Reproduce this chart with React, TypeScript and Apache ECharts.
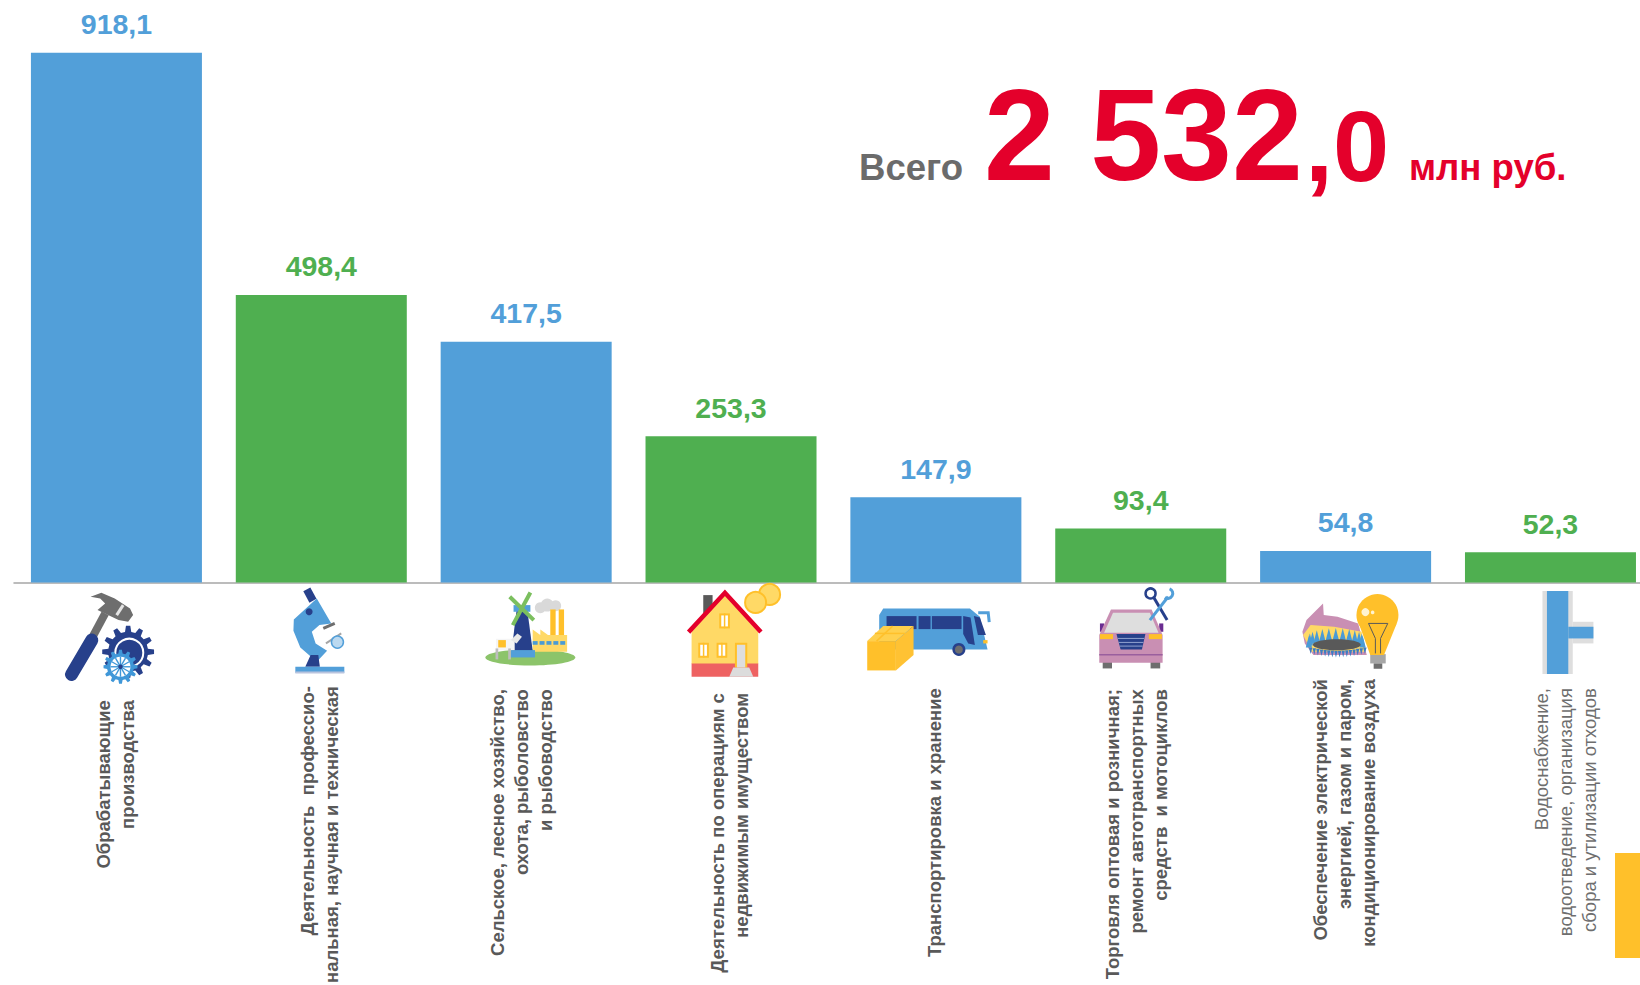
import React, { useEffect, useRef } from "react";
import * as echarts from "echarts";

const categories = [
  "Обрабатывающие\nпроизводства",
  "Деятельность  профессио-\nнальная, научная и техническая",
  "Сельское, лесное хозяйство,\nохота, рыболовство\nи рыбоводство",
  "Деятельность по операциям с\nнедвижимым имуществом",
  "Транспортировка и хранение",
  "Торговля оптовая и розничная;\nремонт автотранспортных\nсредств  и мотоциклов",
  "Обеспечение электрической\nэнергией, газом и паром,\nкондиционирование воздуха",
  "Водоснабжение,\nводоотведение, организация\nсбора и утилизации отходов",
];
const values = [918.1, 498.4, 417.5, 253.3, 147.9, 93.4, 54.8, 52.3];
const labelTops = [700, 686, 689, 693, 688, 689, 679, 688];
const labelShift = [-1, -2, -5, -2, -1, -4, -1, 15];

const BLUE = "#529FD9";
const GREEN = "#4FAF50";
const DARK = "#27408B";
const YEL = "#FFC02A";
const LY = "#FFD966";
const GR = "#6E6E6E";
const LG = "#D9D9D9";
const RED = "#E4002B";
const BASE_Y = 582.4;
const refCenters = [116.5, 321.4, 526.2, 731.1, 936, 1140.8, 1345.7, 1550.5];

type P = [number, number];
const Z1 = (p: P): P => [p[0] / 2.613, 560 + p[1] / 3];
const Z2 = (p: P): P => [600 + p[0] / 3, 560 + p[1] / 3];
const Z3 = (p: P): P => [1100 + p[0] / 2.904, 560 + p[1] / 3];
type Z = (p: P) => P;

const poly = (z: Z, pts: P[], fill: string) => ({ type: "polygon", shape: { points: pts.map(z) }, style: { fill } });
const line = (z: Z, a: P, b: P, stroke: string, lineWidth: number, cap = "butt") => {
  const [x1, y1] = z(a);
  const [x2, y2] = z(b);
  return { type: "line", shape: { x1, y1, x2, y2 }, style: { stroke, lineWidth, lineCap: cap } };
};
const pline = (z: Z, pts: P[], stroke: string, lineWidth: number) => ({
  type: "polyline",
  shape: { points: pts.map(z) },
  style: { stroke, lineWidth, fill: "none" },
});
const rect = (z: Z, a: P, b: P, fill: string) => {
  const [x, y] = z(a);
  const [x2, y2] = z(b);
  return { type: "rect", shape: { x, y, width: x2 - x, height: y2 - y }, style: { fill } };
};
const circ = (z: Z, c: P, r: number, fill: string, stroke?: string, lineWidth = 1) => {
  const [cx, cy] = z(c);
  return { type: "circle", shape: { cx, cy, r }, style: { fill, stroke, lineWidth } };
};
const ell = (z: Z, c: P, rx: number, ry: number, fill: string) => {
  const [cx, cy] = z(c);
  return { type: "ellipse", shape: { cx, cy, rx, ry }, style: { fill } };
};
const gear = (z: Z, c: P, ro: number, ri: number, teeth: number, fill: string) => {
  const [cx, cy] = z(c);
  const pts: P[] = [];
  for (let i = 0; i < teeth; i++) {
    const a = (i / teeth) * Math.PI * 2;
    const s = (Math.PI * 2) / teeth;
    [
      [a - s * 0.3, ri],
      [a - s * 0.16, ro],
      [a + s * 0.16, ro],
      [a + s * 0.3, ri],
    ].forEach(([t, r]) => pts.push([cx + Math.cos(t) * r, cy + Math.sin(t) * r]));
  }
  return { type: "polygon", shape: { points: pts }, style: { fill } };
};

const hammerIcon = () => {
  const c: P = [335, 275];
  const s: P = [315, 320];
  const sc = Z1(s);
  const spokes = [0, 1, 2, 3, 4, 5].map((i) => {
    const a = (i / 6) * Math.PI;
    return {
      type: "line",
      shape: {
        x1: sc[0] - Math.cos(a) * 10,
        y1: sc[1] - Math.sin(a) * 10,
        x2: sc[0] + Math.cos(a) * 10,
        y2: sc[1] + Math.sin(a) * 10,
      },
      style: { stroke: "#3F97D8", lineWidth: 1.4 },
    };
  });
  return [
    line(Z1, [240, 235], [275, 160], GR, 8),
    poly(Z1, [[237, 110], [265, 98], [300, 115], [340, 145], [348, 165], [335, 185], [310, 180], [255, 150], [275, 130], [262, 115]], GR),
    line(Z1, [305, 165], [322, 135], "#E4E4E4", 3),
    line(Z1, [187, 343], [240, 240], DARK, 13, "round"),
    gear(Z1, c, 26, 20, 12, DARK),
    circ(Z1, [338, 278], 14, DARK, "#fff", 2),
    gear(Z1, s, 17, 13.5, 12, "#3F97D8"),
    circ(Z1, s, 10, "#fff"),
    ...spokes,
    circ(Z1, s, 2.2, DARK),
  ];
};

const microscopeIcon = () => [
  line(Z1, [802, 88], [818, 122], DARK, 8),
  poly(Z1, [[768, 178], [828, 115], [866, 190], [835, 195], [815, 215], [825, 250], [855, 272], [828, 305], [785, 262], [767, 212]], BLUE),
  circ(Z1, [808, 155], 3.5, DARK),
  line(Z1, [845, 205], [875, 190], GR, 3),
  line(Z1, [852, 250], [892, 220], "#A6A6A6", 2),
  circ(Z1, [882, 246], 6, "#BBD9F0", BLUE, 1.5),
  poly(Z1, [[798, 320], [812, 285], [832, 285], [836, 320]], DARK),
  rect(Z1, [772, 320], [900, 338], BLUE),
  rect(Z1, [772, 334], [900, 340], "#B9C4DE"),
];

const farmIcon = () => {
  const wins = [1392, 1410, 1428, 1446, 1464].map((x) => rect(Z1, [x, 243], [x + 13, 254], "#4A9BD5"));
  return [
    ell(Z1, [1386, 292], 45, 8, "#8CC46A"),
    circ(Z1, [1412, 143], 5.5, LG),
    circ(Z1, [1430, 135], 6.5, LG),
    circ(Z1, [1452, 137], 5.5, LG),
    rect(Z1, [1438, 148], [1452, 235], YEL),
    rect(Z1, [1460, 148], [1474, 235], YEL),
    poly(Z1, [[1392, 240], [1392, 208], [1412, 225], [1412, 208], [1432, 225], [1482, 225], [1482, 275], [1392, 275]], LY),
    ...wins,
    poly(Z1, [[1350, 150], [1378, 150], [1392, 272], [1337, 272]], DARK),
    rect(Z1, [1335, 270], [1398, 292], BLUE),
    rect(Z1, [1342, 135], [1386, 155], BLUE),
    line(Z1, [1332, 110], [1395, 180], "#7BBF5E", 4),
    line(Z1, [1386, 97], [1340, 195], "#7BBF5E", 4),
    rect(Z1, [1296, 236], [1345, 270], "#F5F5F5"),
    rect(Z1, [1302, 240], [1322, 262], YEL),
    poly(Z1, [[1335, 240], [1352, 220], [1364, 230], [1350, 250]], "#E8E8E8"),
    rect(Z1, [1295, 265], [1302, 298], "#BDBDBD"),
    rect(Z1, [1328, 265], [1335, 298], "#BDBDBD"),
  ];
};

const houseIcon = () => [
  rect(Z2, [310, 105], [338, 165], "#595959"),
  poly(Z2, [[275, 215], [375, 105], [475, 215], [475, 312], [275, 312]], LY),
  rect(Z2, [275, 310], [475, 350], "#EE6262"),
  pline(Z2, [[266, 216], [375, 98], [483, 216]], RED, 4.5),
  ...([[358, 160, 390, 205], [295, 248, 327, 293], [350, 248, 382, 293]] as number[][]).flatMap(([a, b, c, d]) => [
    rect(Z2, [a, b], [c, d], YEL),
    rect(Z2, [a + 6, b + 6], [c - 6, d - 6], "#FFFFFF"),
    line(Z2, [(a + c) / 2, b], [(a + c) / 2, d], YEL, 1.5),
  ]),
  rect(Z2, [405, 248], [442, 322], YEL),
  rect(Z2, [411, 254], [436, 322], "#DEDEDE"),
  poly(Z2, [[388, 350], [400, 322], [448, 322], [460, 350]], "#DCDCDC"),
  circ(Z2, [509, 103], 10.5, LY, YEL, 2),
  circ(Z2, [467, 127], 10.5, LY, YEL, 2),
];

const busIcon = () => [
  poly(Z2, [[838, 165], [850, 145], [1110, 145], [1140, 170], [1163, 268], [838, 268]], BLUE),
  rect(Z2, [860, 168], [950, 207], DARK),
  rect(Z2, [956, 168], [992, 207], DARK),
  rect(Z2, [996, 168], [1085, 207], DARK),
  poly(Z2, [[1090, 168], [1112, 172], [1125, 255], [1105, 250], [1090, 222]], DARK),
  poly(Z2, [[1122, 168], [1140, 172], [1158, 225], [1134, 225]], DARK),
  pline(Z2, [[1135, 158], [1165, 158], [1168, 186]], BLUE, 3),
  rect(Z2, [1150, 240], [1163, 250], YEL),
  circ(Z2, [1077, 268], 6.5, DARK),
  circ(Z2, [1077, 268], 4, GR),
  poly(Z2, [[802, 243], [888, 243], [888, 331], [802, 331]], YEL),
  poly(Z2, [[802, 243], [850, 198], [941, 198], [888, 243]], "#FFD04D"),
  poly(Z2, [[888, 243], [941, 198], [941, 285], [888, 331]], "#FFC233"),
  line(Z2, [830, 243], [878, 198], YEL, 1.5),
  line(Z2, [825, 220], [915, 220], YEL, 1.5),
];

const carIcon = () => [
  rect(Z3, [0, 190], [12, 215], "#6A2C91"),
  rect(Z3, [172, 190], [184, 215], "#6A2C91"),
  rect(Z3, [8, 305], [35, 325], GR),
  rect(Z3, [147, 305], [175, 325], GR),
  poly(Z3, [[-2, 225], [32, 148], [150, 148], [182, 225], [182, 308], [-2, 308]], "#C98FB3"),
  poly(Z3, [[12, 218], [38, 158], [145, 158], [170, 218]], "#DEDEDE"),
  poly(Z3, [[48, 222], [132, 222], [122, 268], [60, 268]], DARK),
  line(Z3, [52, 235], [128, 235], "#8FA0CF", 1),
  line(Z3, [54, 247], [126, 247], "#8FA0CF", 1),
  line(Z3, [57, 258], [124, 258], "#8FA0CF", 1),
  rect(Z3, [0, 222], [38, 237], YEL),
  rect(Z3, [142, 222], [180, 237], YEL),
  line(Z3, [-2, 284], [182, 284], "#9A5F9E", 1.5),
  line(Z3, [155, 110], [195, 180], DARK, 3),
  circ(Z3, [147, 100], 5, "#FFFFFF", DARK, 2.5),
  line(Z3, [198, 110], [145, 180], BLUE, 3),
  { type: "arc", shape: { cx: Z3([197, 100])[0], cy: Z3([197, 100])[1], r: 5, startAngle: -1.2, endAngle: 2.2, clockwise: true }, style: { stroke: BLUE, lineWidth: 3, fill: "none" } },
];

const burnerIcon = () => {
  const flames: any[] = [];
  for (let i = 0; i < 13; i++) {
    const t = (i / 12) * Math.PI;
    const x = 685 - Math.cos(t) * 78;
    const y = 250 - Math.sin(t) * 22;
    flames.push(poly(Z3, [[x - 9, y + 12], [x, y - 24], [x + 9, y + 12]], "#4A9BD5"));
  }
  for (let i = 0; i < 16; i++) {
    const x = 612 + i * 10.5;
    const y = 270 + Math.sin((i / 15) * Math.PI) * 10;
    flames.push(poly(Z3, [[x - 5, y - 8], [x, y + 12], [x + 5, y - 8]], "#3D7CC4"));
  }
  return [
    poly(Z3, [[588, 215], [600, 180], [648, 130], [650, 165], [690, 170], [750, 190], [775, 285], [620, 285], [595, 250]], "#C98FB3"),
    poly(Z3, [[590, 225], [612, 195], [680, 200], [760, 215], [770, 275], [615, 275]], LY),
    ...flames,
    ell(Z3, [688, 254], 24, 5.5, "#595959"),
    rect(Z3, [785, 282], [830, 310], "#A6A6A6"),
    rect(Z3, [795, 310], [820, 326], "#6E6E6E"),
    circ(Z3, [806, 165], 21, YEL),
    poly(Z3, [[752, 190], [862, 190], [825, 285], [785, 285]], YEL),
    pline(Z3, [[780, 190], [836, 190], [815, 235], [815, 280]], "#595959", 1),
    pline(Z3, [[780, 190], [800, 235], [800, 280]], "#595959", 1),
    circ(Z3, [771, 156], 4, "#FFF3D0"),
    circ(Z3, [792, 157], 1.8, "#FFF3D0"),
  ];
};

const pipeIcon = () => [
  rect(Z3, [1285, 93], [1373, 342], "#DEDEDE"),
  rect(Z3, [1373, 185], [1433, 250], "#DEDEDE"),
  rect(Z3, [1298, 93], [1360, 342], BLUE),
  rect(Z3, [1360, 200], [1433, 235], BLUE),
];

const icons = [hammerIcon, microscopeIcon, farmIcon, houseIcon, busIcon, carIcon, burnerIcon, pipeIcon];

const renderAnnex = (p: any, api: any) => {
  const idx = p.dataIndex;
  const [cx, by] = api.coord([idx, 0]);
  return {
    type: "group",
    x: cx - refCenters[idx],
    y: by - BASE_Y,
    children: [
      ...icons[idx](),
      {
        type: "text",
        x: refCenters[idx] + labelShift[idx],
        y: labelTops[idx],
        rotation: Math.PI / 2,
        style: {
          text: categories[idx],
          font: `${idx === 7 ? "normal" : "bold"} 18.5px "Liberation Sans", Arial, sans-serif`,
          fill: idx === 7 ? "#6E6E6E" : "#595959",
          align: "right",
          verticalAlign: "middle",
          lineHeight: 24,
        },
      },
    ],
  };
};

export default function App() {
  const ref = useRef<HTMLDivElement>(null);
  useEffect(() => {
    document.body.style.margin = "0";
    document.body.style.overflow = "hidden";
    const chart = echarts.init(ref.current!, undefined, { renderer: "svg" });
    chart.setOption({
      animation: false,
      backgroundColor: "#fff",
      grid: { left: 14, top: 5.6, width: 1638.9, height: 576.9, containLabel: false, outerBoundsMode: "none" },
      xAxis: {
        type: "category",
        data: categories,
        axisLine: { lineStyle: { color: "#A6A6A6", width: 1.5 } },
        axisTick: { show: false },
        axisLabel: { show: false },
      },
      yAxis: { type: "value", min: 0, max: 1000, show: false, splitLine: { show: false } },
      series: [
        {
          type: "bar",
          barWidth: 171,
          data: values.map((v, i) => ({
            value: v,
            itemStyle: { color: i % 2 ? GREEN : BLUE },
            label: { color: i % 2 ? GREEN : BLUE },
          })),
          label: {
            show: true,
            position: "top",
            distance: 14,
            fontFamily: '"Liberation Sans", Arial, sans-serif',
            fontSize: 28.5,
            fontWeight: "bold",
            formatter: (p: any) => p.value.toFixed(1).replace(".", ","),
          },
        },
        {
          type: "custom",
          data: values.map((v, i) => [i, v]),
          renderItem: renderAnnex,
          clip: false,
          silent: true,
          z: 5,
        },
      ],
      graphic: [
        { type: "text", x: 859, y: 186, style: { text: "Всего", font: 'bold 36.6px "Liberation Sans", Arial', fill: "#6B6B6B", verticalAlign: "bottom" } },
        { type: "text", x: 984, y: 200, scaleX: 0.98, style: { text: "2 532", font: 'bold 130px "Liberation Sans", Arial', fill: RED, verticalAlign: "bottom" } },
        { type: "text", x: 1305, y: 196, style: { text: ",0", font: 'bold 101px "Liberation Sans", Arial', fill: RED, verticalAlign: "bottom" } },
        { type: "text", x: 1409, y: 186, style: { text: "млн руб.", font: 'bold 36.6px "Liberation Sans", Arial', fill: RED, verticalAlign: "bottom" } },
        { type: "rect", shape: { x: 1615, y: 853, width: 25, height: 105 }, style: { fill: YEL } },
      ],
    });
    return () => chart.dispose();
  }, []);
  return <div ref={ref} style={{ width: 1640, height: 985 }} />;
}
